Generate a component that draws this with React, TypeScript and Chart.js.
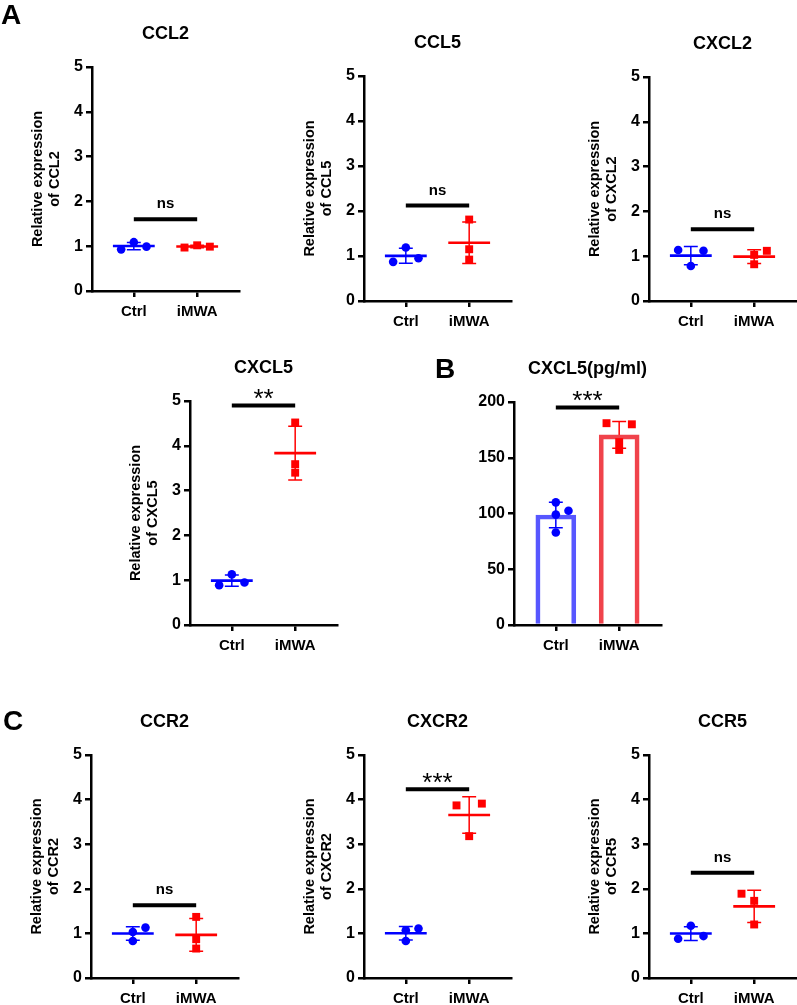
import React, { useEffect, useRef } from 'react';
import { Chart, registerables } from 'chart.js';

Chart.register(...registerables);

const FONT = '"Liberation Sans", Arial, Helvetica, sans-serif';
const BLUE = '#0000FF';
const RED = '#FF0000';
const BAR_BLUE = '#5757FF';
const BAR_RED = '#F0434B';

// ---------- data ----------
const groups = ['Ctrl', 'iMWA'];
const qpcrTicks = [0, 1, 2, 3, 4, 5];
const elisaTicks = [0, 50, 100, 150, 200];

const titles = ['CCL2', 'CCL5', 'CXCL2', 'CXCL5', 'CXCL5(pg/ml)', 'CCR2', 'CXCR2', 'CCR5'];

const ccl2Ctrl = [0.93, 1.09, 0.99];
const ccl2Imwa = [0.97, 1.02, 0.99];
const ccl5Ctrl = [0.87, 1.19, 0.95];
const ccl5Imwa = [1.81, 1.15, 0.92];
const cxcl2Ctrl = [1.14, 0.78, 1.12];
const cxcl2Imwa = [0.82, 1.03, 1.12];
const cxcl5Ctrl = [0.89, 1.13, 0.95];
const cxcl5Imwa = [4.52, 3.59, 3.4];
const elisaCtrl = [110, 99, 83, 102.5];
const elisaImwa = [181, 164, 157, 180];
const ccr2Ctrl = [1.03, 0.83, 1.13];
const ccr2Imwa = [1.37, 0.87, 0.66];
const cxcr2Ctrl = [1.07, 0.83, 1.11];
const cxcr2Imwa = [3.87, 3.18, 3.91];
const ccr5Ctrl = [0.88, 1.17, 0.94];
const ccr5Imwa = [1.89, 1.73, 1.2];

// jitter slots of the dot plots (-1 left, 0 centre, 1 right)
const ccl2Spread = [[-1, 0, 1], [-1, 0, 1]];
const ccl5Spread = [[-1, 0, 1], [0, 0, 0]];
const cxcl2Spread = [[-1, 0, 1], [0, 0, 1]];
const cxcl5Spread = [[-1, 0, 1], [0, 0, 0]];
const elisaSpread = [[0, 0, 0, 1], [-1, 0, 0, 1]];
const ccr2Spread = [[0, 0, 1], [0, 0, 0]];
const cxcr2Spread = [[0, 0, 1], [-1, 0, 1]];
const ccr5Spread = [[-1, 0, 1], [-1, 0, 0]];

const sigHeights = [1.6, 2.12, 1.6, 4.9, 195, 1.63, 4.23, 2.36];
const sigLabels = ['ns', 'ns', 'ns', '**', '***', 'ns', '***', 'ns'];

// ---------- layout (page pixels) ----------
type Box = { L: number; T: number; B: number; bottomH: number; letter?: string; lx?: number; ly?: number };
const boxes: Box[] = [
  { L: 92, T: 67, B: 291, bottomH: 30, letter: 'A', lx: 1, ly: 24 },
  { L: 364, T: 76, B: 301, bottomH: 30 },
  { L: 649, T: 77, B: 301, bottomH: 30 },
  { L: 190, T: 401, B: 625, bottomH: 30 },
  { L: 514, T: 402, B: 625, bottomH: 30, letter: 'B', lx: 435, ly: 378 },
  { L: 91, T: 755, B: 978, bottomH: 27, letter: 'C', lx: 3, ly: 730 },
  { L: 364, T: 755, B: 978, bottomH: 27 },
  { L: 649, T: 755, B: 978, bottomH: 27 },
];

const Y_AXIS_W = 92;
const PAD_TOP = 70;
const PAD_RIGHT = 6;
const PLOT_W = 147;
const X_MIN = 0.34;
const X_MAX = 2.66;
const SPREAD = 0.2;
const MEAN_HW = 0.33;
const CAP_HW = 0.11;

type Panel = {
  title: string;
  yTitle: string[] | null;
  ctrl: number[];
  imwa: number[];
  spread: number[][];
  yTicks: number[];
  sigY: number;
  sigText: string;
  bars: boolean;
  box: Box;
};

const yTitle = (g: string) => ['Relative expression', 'of ' + g];

const panels: Panel[] = [
  { title: titles[0], yTitle: yTitle('CCL2'), ctrl: ccl2Ctrl, imwa: ccl2Imwa, spread: ccl2Spread, yTicks: qpcrTicks, sigY: sigHeights[0], sigText: sigLabels[0], bars: false, box: boxes[0] },
  { title: titles[1], yTitle: yTitle('CCL5'), ctrl: ccl5Ctrl, imwa: ccl5Imwa, spread: ccl5Spread, yTicks: qpcrTicks, sigY: sigHeights[1], sigText: sigLabels[1], bars: false, box: boxes[1] },
  { title: titles[2], yTitle: yTitle('CXCL2'), ctrl: cxcl2Ctrl, imwa: cxcl2Imwa, spread: cxcl2Spread, yTicks: qpcrTicks, sigY: sigHeights[2], sigText: sigLabels[2], bars: false, box: boxes[2] },
  { title: titles[3], yTitle: yTitle('CXCL5'), ctrl: cxcl5Ctrl, imwa: cxcl5Imwa, spread: cxcl5Spread, yTicks: qpcrTicks, sigY: sigHeights[3], sigText: sigLabels[3], bars: false, box: boxes[3] },
  { title: titles[4], yTitle: null, ctrl: elisaCtrl, imwa: elisaImwa, spread: elisaSpread, yTicks: elisaTicks, sigY: sigHeights[4], sigText: sigLabels[4], bars: true, box: boxes[4] },
  { title: titles[5], yTitle: yTitle('CCR2'), ctrl: ccr2Ctrl, imwa: ccr2Imwa, spread: ccr2Spread, yTicks: qpcrTicks, sigY: sigHeights[5], sigText: sigLabels[5], bars: false, box: boxes[5] },
  { title: titles[6], yTitle: yTitle('CXCR2'), ctrl: cxcr2Ctrl, imwa: cxcr2Imwa, spread: cxcr2Spread, yTicks: qpcrTicks, sigY: sigHeights[6], sigText: sigLabels[6], bars: false, box: boxes[6] },
  { title: titles[7], yTitle: yTitle('CCR5'), ctrl: ccr5Ctrl, imwa: ccr5Imwa, spread: ccr5Spread, yTicks: qpcrTicks, sigY: sigHeights[7], sigText: sigLabels[7], bars: false, box: boxes[7] },
];

const mean = (a: number[]) => a.reduce((s, v) => s + v, 0) / a.length;
const sd = (a: number[]) => {
  const m = mean(a);
  return Math.sqrt(a.reduce((s, v) => s + (v - m) * (v - m), 0) / (a.length - 1));
};

function canvasRect(b: Box) {
  const left = b.L - Y_AXIS_W;
  const top = b.T - PAD_TOP;
  const width = Y_AXIS_W + PLOT_W + PAD_RIGHT;
  const height = PAD_TOP + (b.B - b.T) + b.bottomH;
  return { left, top, width, height };
}

function decor(p: Panel) {
  const rect = canvasRect(p.box);
  return {
    id: 'decor',
    beforeDatasetsDraw(chart: any) {
      const { ctx, scales } = chart;
      const x = scales.x;
      const y = scales.y;
      const sets: [number[], string][] = [[p.ctrl, BLUE], [p.imwa, RED]];
      sets.forEach(([vals, col], gi) => {
        const gx = gi + 1;
        const m = mean(vals);
        const s = sd(vals);
        ctx.save();
        ctx.strokeStyle = col;
        ctx.lineCap = 'butt';
        if (!p.bars) {
          ctx.lineWidth = 2.6;
          ctx.beginPath();
          ctx.moveTo(x.getPixelForValue(gx - MEAN_HW), y.getPixelForValue(m));
          ctx.lineTo(x.getPixelForValue(gx + MEAN_HW), y.getPixelForValue(m));
          ctx.stroke();
        }
        ctx.lineWidth = 1.5;
        const px = x.getPixelForValue(gx);
        const top = y.getPixelForValue(m + s);
        const bot = y.getPixelForValue(m - s);
        ctx.beginPath();
        ctx.moveTo(px, top);
        ctx.lineTo(px, bot);
        ctx.moveTo(x.getPixelForValue(gx - CAP_HW), top);
        ctx.lineTo(x.getPixelForValue(gx + CAP_HW), top);
        ctx.moveTo(x.getPixelForValue(gx - CAP_HW), bot);
        ctx.lineTo(x.getPixelForValue(gx + CAP_HW), bot);
        ctx.stroke();
        ctx.restore();
      });
    },
    afterDraw(chart: any) {
      const { ctx, chartArea: a, scales } = chart;
      const x = scales.x;
      const y = scales.y;
      ctx.save();
      ctx.fillStyle = '#000';
      // title
      ctx.font = `bold 18px ${FONT}`;
      ctx.textAlign = 'center';
      ctx.textBaseline = 'alphabetic';
      ctx.fillText(p.title, (a.left + a.right) / 2, a.top - 28);
      // y title
      if (p.yTitle) {
        ctx.save();
        ctx.translate(a.left - 45.5, (a.top + a.bottom) / 2);
        ctx.rotate(-Math.PI / 2);
        ctx.font = `bold 14.5px ${FONT}`;
        ctx.textAlign = 'center';
        ctx.textBaseline = 'middle';
        ctx.fillText(p.yTitle[0], 0, -8.5);
        ctx.fillText(p.yTitle[1], 0, 8.5);
        ctx.restore();
      }
      // significance
      const sy = y.getPixelForValue(p.sigY);
      ctx.strokeStyle = '#000';
      ctx.lineWidth = 4;
      ctx.beginPath();
      ctx.moveTo(x.getPixelForValue(1), sy);
      ctx.lineTo(x.getPixelForValue(2), sy);
      ctx.stroke();
      ctx.textAlign = 'center';
      ctx.textBaseline = 'alphabetic';
      const cx = x.getPixelForValue(1.5);
      if (p.sigText === 'ns') {
        ctx.font = `bold 15px ${FONT}`;
        ctx.fillText(p.sigText, cx, sy - 11);
      } else {
        ctx.font = `26px ${FONT}`;
        ctx.fillText(p.sigText, cx, sy + 1.5);
      }
      // panel letter
      if (p.box.letter) {
        ctx.font = `bold 28px ${FONT}`;
        ctx.textAlign = 'left';
        ctx.fillText(p.box.letter, (p.box.lx as number) - rect.left, (p.box.ly as number) - rect.top);
      }
      ctx.restore();
    },
  };
}

function PanelChart({ p }: { p: Panel }) {
  const ref = useRef<HTMLCanvasElement>(null);
  const rect = canvasRect(p.box);
  useEffect(() => {
    if (!ref.current) return;
    const border = { display: true, color: '#000', width: 2.5 };
    const datasets: any[] = [
      {
        type: 'scatter',
        data: p.ctrl.map((v, i) => ({ x: 1 + p.spread[0][i] * SPREAD, y: v })),
        pointStyle: 'circle',
        pointRadius: 4.3,
        backgroundColor: BLUE,
        borderWidth: 0,
        order: 0,
        clip: false,
      },
      {
        type: 'scatter',
        data: p.imwa.map((v, i) => ({ x: 2 + p.spread[1][i] * SPREAD, y: v })),
        pointStyle: 'rect',
        pointRadius: 5.6,
        backgroundColor: RED,
        borderWidth: 0,
        order: 0,
        clip: false,
      },
    ];
    if (p.bars) {
      datasets.push({
        type: 'bar',
        data: [
          { x: 1, y: mean(p.ctrl) },
          { x: 2, y: mean(p.imwa) },
        ],
        backgroundColor: 'rgba(255,255,255,0)',
        borderColor: [BAR_BLUE, BAR_RED],
        borderWidth: 4,
        barThickness: 40,
        order: 5,
      });
    }
    const chart = new Chart(ref.current, {
      type: 'scatter',
      data: { datasets },
      options: {
        animation: false,
        responsive: false,
        maintainAspectRatio: false,
        events: [],
        layout: { padding: { top: PAD_TOP, right: PAD_RIGHT, bottom: 0, left: 0 } },
        plugins: { legend: { display: false }, tooltip: { enabled: false }, title: { display: false } },
        scales: {
          x: {
            type: 'linear',
            min: X_MIN,
            max: X_MAX,
            offset: false,
            afterBuildTicks: (s: any) => {
              s.ticks = groups.map((_, i) => ({ value: i + 1 }));
            },
            afterFit: (s: any) => {
              s.height = p.box.bottomH;
            },
            ticks: {
              autoSkip: false,
              maxRotation: 0,
              padding: 6,
              color: '#000',
              font: { family: FONT, size: 15, weight: 'bold' },
              callback: (v: any) => groups[Number(v) - 1] ?? '',
            },
            grid: { display: true, offset: false, drawOnChartArea: false, drawTicks: true, tickLength: 6, color: '#000', lineWidth: 2.5 },
            border,
          },
          y: {
            type: 'linear',
            min: p.yTicks[0],
            max: p.yTicks[p.yTicks.length - 1],
            offset: false,
            afterBuildTicks: (s: any) => {
              s.ticks = p.yTicks.map((v) => ({ value: v }));
            },
            afterFit: (s: any) => {
              s.width = Y_AXIS_W;
            },
            ticks: {
              padding: 3,
              color: '#000',
              font: { family: FONT, size: 16, weight: 'bold' },
              callback: (v: any) => String(v),
            },
            grid: { display: true, offset: false, drawOnChartArea: false, drawTicks: true, tickLength: 6, color: '#000', lineWidth: 2.5 },
            border,
          },
        },
      } as any,
      plugins: [decor(p) as any],
    });
    return () => chart.destroy();
  }, []);
  return (
    <canvas
      ref={ref}
      width={rect.width}
      height={rect.height}
      style={{ position: 'absolute', left: rect.left, top: rect.top, width: rect.width, height: rect.height }}
    />
  );
}

export default function App() {
  return (
    <div
      style={{
        position: 'absolute',
        left: 0,
        top: 0,
        width: 797,
        height: 1005,
        overflow: 'hidden',
        background: '#fff',
      }}
    >
      {panels.map((p, i) => (
        <PanelChart key={i} p={p} />
      ))}
    </div>
  );
}
